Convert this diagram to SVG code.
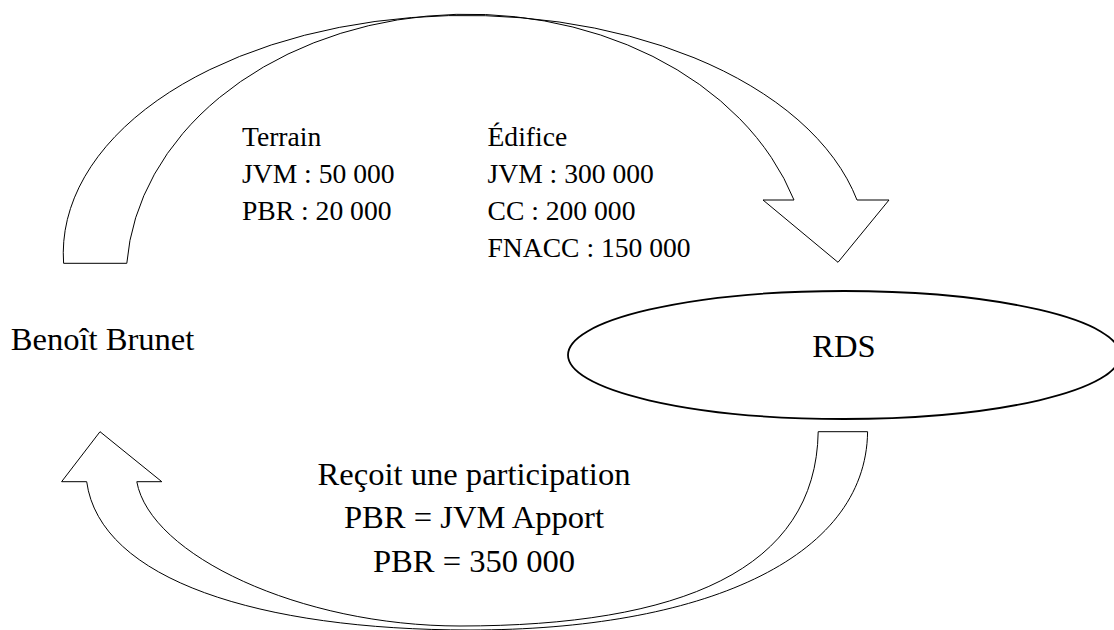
<svg xmlns="http://www.w3.org/2000/svg" width="1114" height="630" viewBox="0 0 1114 630">
<style>
.arrow{fill:#fff;stroke:#000;stroke-width:1;stroke-linejoin:miter}
.node{fill:#fff;stroke:#000;stroke-width:1.8}
.t{font-family:"Liberation Serif","Times New Roman",serif;fill:#000}
.big{font-size:32.6px}
.small{font-size:27.6px}
</style>
<rect width="1114" height="630" fill="#fff"/>
<g id="connectors">
  <path id="arrow-top" class="arrow" d="M63.6,263.3 A402,238 0 0 1 857,200 L889,200 L838,262.3 L763,200 L794,200 A341.9,266 0 0 0 126.8,263.3 Z"/>
  <path id="arrow-bottom" class="arrow" d="M86.7,481.7 C100,580 260,630 470,630 C700,630 866,560 867.6,431.7 L818.2,431.7 C816,570 680,626 460,626 C300,626 150,555 136.8,481.7 L161.8,481.7 L100,431.7 L61.6,481.7 Z"/>
</g>
<g id="label-top">
  <text class="t small" x="242" y="146">Terrain</text>
  <text class="t small" x="242" y="183">JVM : 50 000</text>
  <text class="t small" x="242" y="220">PBR : 20 000</text>
  <text class="t small" x="487.5" y="146">Édifice</text>
  <text class="t small" x="487.5" y="183">JVM : 300 000</text>
  <text class="t small" x="487.5" y="220">CC : 200 000</text>
  <text class="t small" x="487.5" y="257">FNACC : 150 000</text>
</g>
<g id="node-benoit">
  <text class="t big" x="10.7" y="350">Benoît Brunet</text>
</g>
<g id="node-rds">
  <ellipse class="node" cx="844" cy="355" rx="276" ry="64"/>
  <text class="t big" x="844" y="356.7" text-anchor="middle">RDS</text>
</g>
<g id="label-bottom">
  <text class="t big" x="474" y="485" text-anchor="middle">Reçoit une participation</text>
  <text class="t big" x="474" y="528.3" text-anchor="middle">PBR = JVM Apport</text>
  <text class="t big" x="474" y="571.7" text-anchor="middle">PBR = 350 000</text>
</g>
</svg>
